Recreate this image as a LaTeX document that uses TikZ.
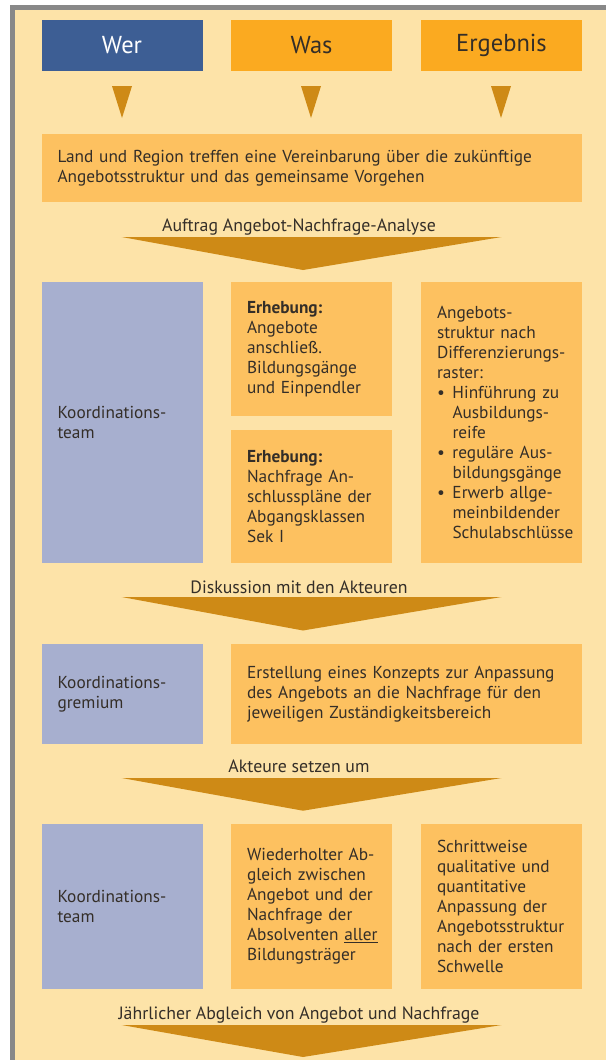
\documentclass[tikz,border=0pt]{standalone}
\usepackage{fontspec}
\setmainfont{PT Sans}
\definecolor{bg}{RGB}{253,227,168}
\definecolor{framegray}{RGB}{136,136,136}
\definecolor{werblue}{RGB}{61,94,148}
\definecolor{headorange}{RGB}{251,170,32}
\definecolor{boxorange}{RGB}{253,193,96}
\definecolor{lav}{RGB}{167,175,207}
\definecolor{arrowgold}{RGB}{206,138,22}
\definecolor{txt}{RGB}{52,46,40}
\newcommand\keepline[1]{\mbox{#1}}
\begin{document}
\begin{tikzpicture}[x=1pt,y=-1pt,
  head/.style={anchor=north west, minimum width=161, minimum height=51, inner sep=0,
    font=\fontsize{24.5}{28}\selectfont},
  body/.style={anchor=north west, inner xsep=16, inner ysep=0, align=left, text=txt,
    font=\fontsize{17.3}{20}\selectfont},
  whobox/.style={body, fill=lav, text width=129},
  obox/.style={body, fill=boxorange, text width=129},
  widebox/.style={body, fill=boxorange},
  lbl/.style={text=txt, font=\fontsize{17.8}{20}\selectfont, inner sep=0},
  bigarrow/.style={fill=arrowgold},
  smallarrow/.style={fill=arrowgold}
]
\useasboundingbox (0,0) rectangle (605,1060);
\fill[white] (0,0) rectangle (605,1060);
\fill[framegray] (9.6,5) rectangle (610,1070);
\fill[bg] (14.7,10) rectangle (610,1070);

% header
\node[head, fill=werblue, text=white] (wer) at (41.3,19.3) {Wer};
\node[head, fill=headorange, text=txt] (was) at (230.9,19.3) {Was};
\node[head, fill=headorange, text=txt] (erg) at (420.8,19.3) {Ergebnis};

% small triangles
\foreach \c/\n in {122/a,311/b,501/c}{
  \coordinate (t\n) at (\c,118);
  \fill[smallarrow] (\c-10,86) -- (\c+10,86) -- (t\n) -- cycle;
}

% Land und Region
\node[widebox, text width=508.2, minimum height=68] (land) at (41.3,134)
  {\keepline{Land und Region treffen eine Vereinbarung über die zukünftige}\\\keepline{Angebotsstruktur und das gemeinsame Vorgehen}};

\node[lbl] (l1) at (299,227) {Auftrag Angebot-Nachfrage-Analyse};
\coordinate (a1) at (303,270);
\fill[bigarrow] (121.7,237) -- (501.5,237) -- (a1) -- cycle;

% row 1
\node[whobox, minimum height=281.3] (kt1) at (41.3,281.7) {Koordinations-\\team};
\node[obox, minimum height=134.3] (e1) at (230.9,281.7)
  {\textbf{Erhebung:}\\Angebote\\anschließ.\\\keepline{Bildungsgänge}\\\keepline{und Einpendler}};
\node[obox, minimum height=133.7] (e2) at (230.9,429.3)
  {\textbf{Erhebung:}\\\keepline{Nachfrage An-}\\\keepline{schlusspläne der}\\\keepline{Abgangsklassen}\\Sek I};
\node[obox, minimum height=281.3] (r1) at (420.8,281.7)
  {Angebots-\\\keepline{struktur nach}\\\keepline{Differenzierungs-}\\raster:\\
   \keepline{\makebox[15.5pt][l]{\textbullet}Hinführung zu}\\
   \keepline{\hspace*{15.5pt}Ausbildungs-}\\
   \keepline{\hspace*{15.5pt}reife}\\
   \keepline{\makebox[15.5pt][l]{\textbullet}reguläre Aus-}\\
   \keepline{\hspace*{15.5pt}bildungsgänge}\\
   \keepline{\makebox[15.5pt][l]{\textbullet}Erwerb allge-}\\
   \keepline{\hspace*{15.5pt}meinbildender}\\
   \keepline{\hspace*{15.5pt}Schulabschlüsse}};

\node[lbl] (l2) at (299,587) {Diskussion mit den Akteuren};
\coordinate (a2) at (303,630.5);
\fill[bigarrow] (121.7,597) -- (501.5,597) -- (a2) -- cycle;

% row 2
\node[whobox, minimum height=100.7] (kg) at (41.3,643.3) {Koordinations-\\gremium};
\node[widebox, text width=318.6, minimum height=100.7] (erst) at (230.9,643.3)
  {\keepline{Erstellung eines Konzepts zur Anpassung}\\\keepline{des Angebots an die Nachfrage für den}\\\keepline{jeweiligen Zuständigkeitsbereich}};

\node[lbl] (l3) at (299,766.7) {Akteure setzen um};
\coordinate (a3) at (303,810.7);
\fill[bigarrow] (121.7,778) -- (501.5,778) -- (a3) -- cycle;

% row 3
\node[whobox, minimum height=165] (kt3) at (41.3,823.3) {Koordinations-\\team};
\node[obox, minimum height=165] (m3) at (230.9,823.3)
  {\keepline{Wiederholter Ab-}\\\keepline{gleich zwischen}\\\keepline{Angebot und der}\\\keepline{Nachfrage der}\\\keepline{Absolventen \underline{aller}}\\\keepline{Bildungsträger}};
\node[obox, minimum height=165] (r3) at (420.8,823.3)
  {Schrittweise\\\keepline{qualitative und}\\quantitative\\\keepline{Anpassung der}\\\keepline{Angebotsstruktur}\\\keepline{nach der ersten}\\Schwelle};

\node[lbl] (l4) at (299,1015) {Jährlicher Abgleich von Angebot und Nachfrage};
\coordinate (a4) at (303,1057);
\fill[bigarrow] (121.7,1025) -- (501.5,1025) -- (a4) -- cycle;
\end{tikzpicture}
\end{document}
